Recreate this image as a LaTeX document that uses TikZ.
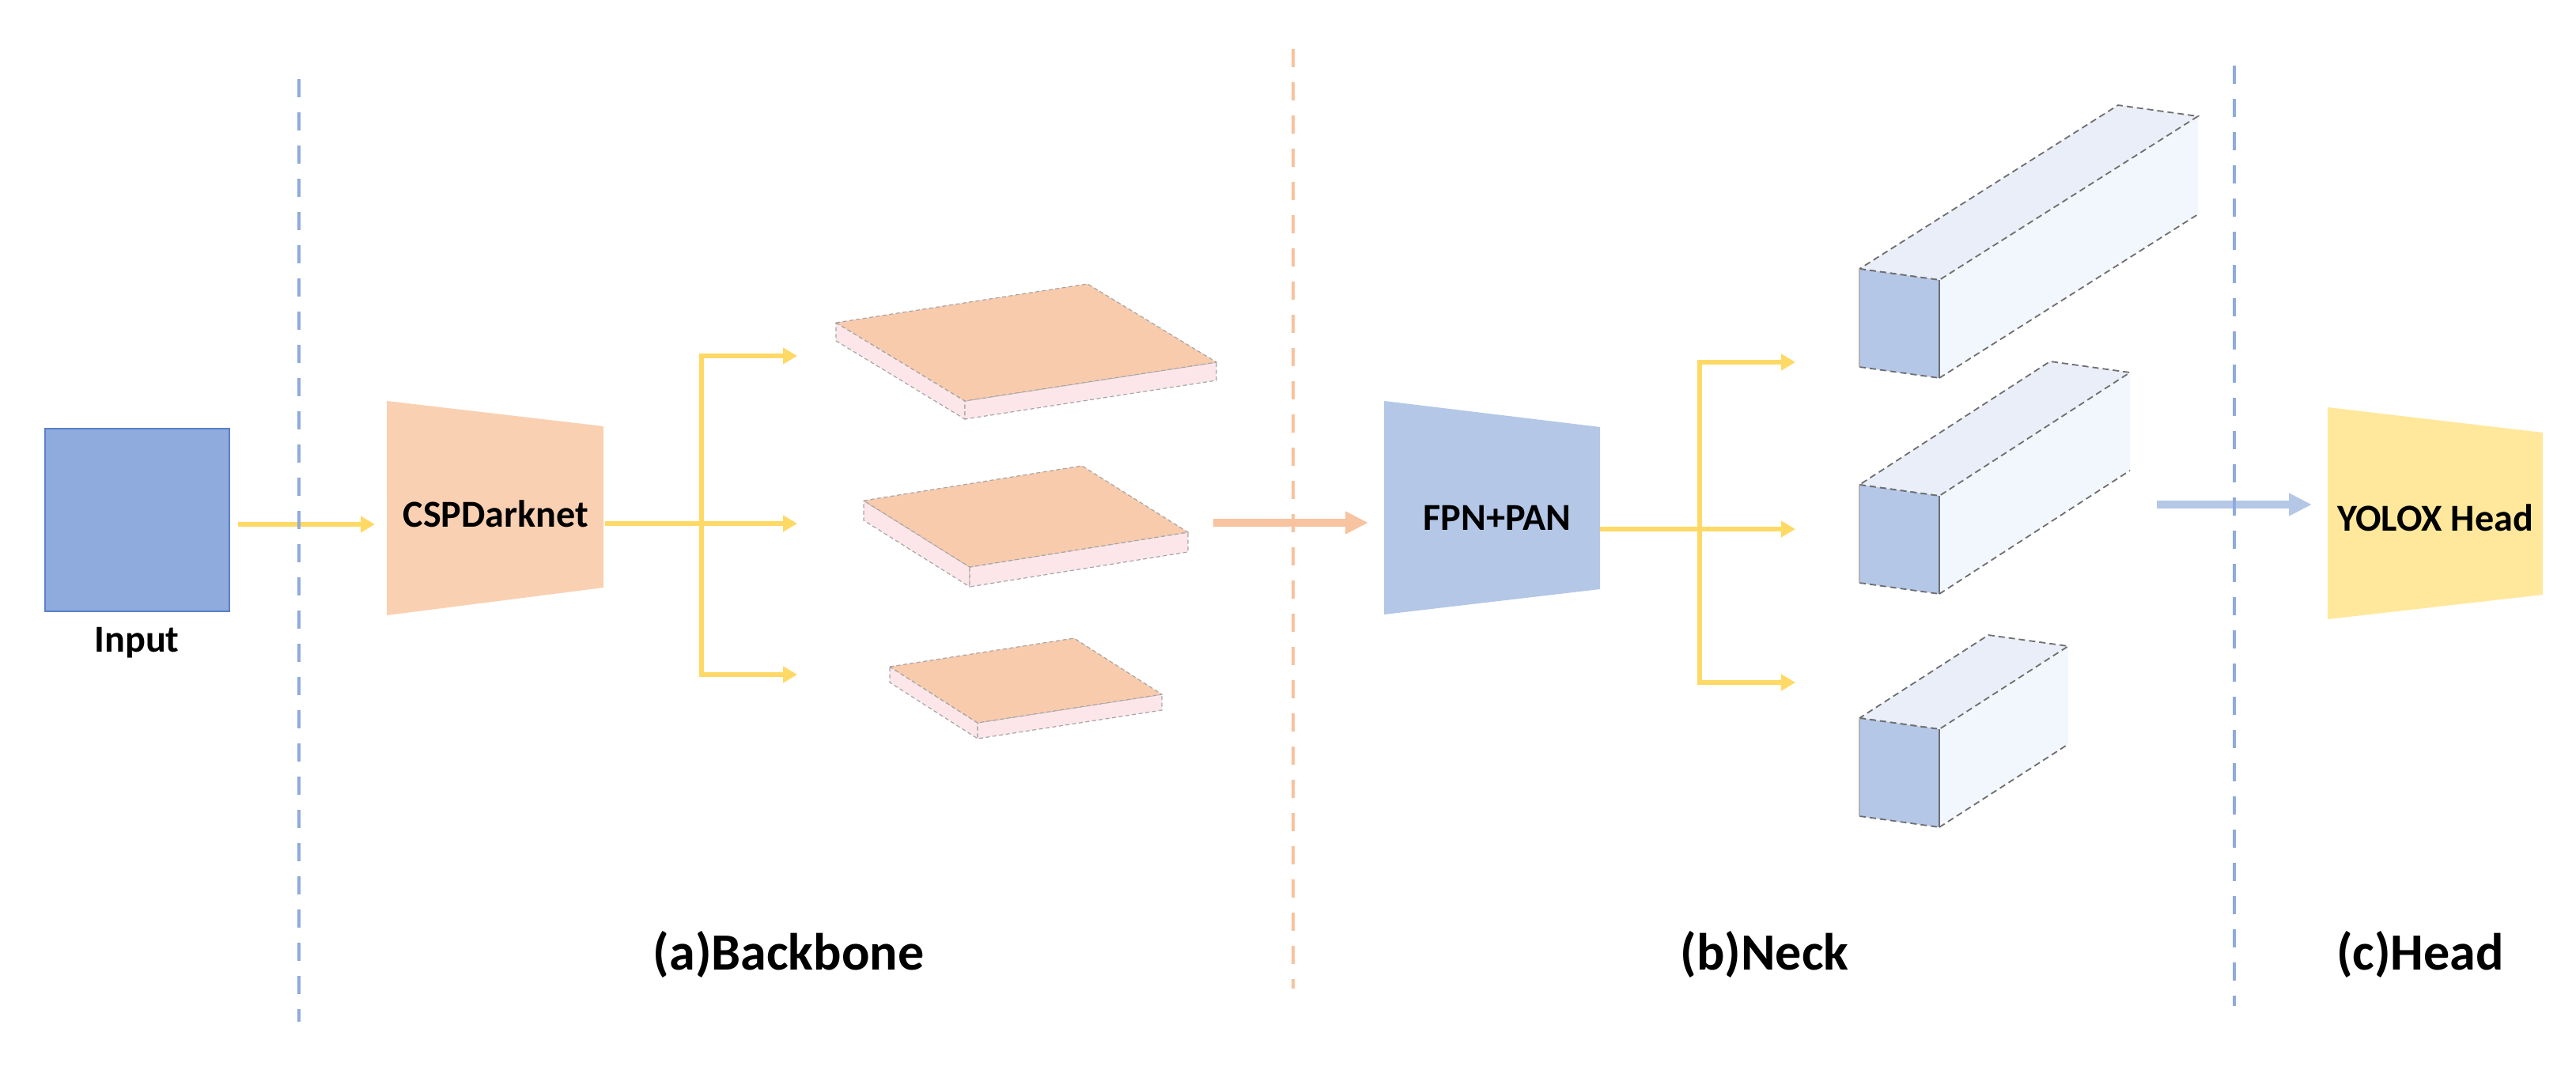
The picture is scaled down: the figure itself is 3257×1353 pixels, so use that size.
\documentclass[tikz,border=0pt]{standalone}
\usepackage{fontspec}
\setmainfont{Carlito}
\usetikzlibrary{arrows.meta}

\definecolor{inblue}{HTML}{8FAADC}
\definecolor{inedge}{HTML}{5B7FC7}
\definecolor{cspfill}{HTML}{FAD0B2}
\definecolor{peach}{HTML}{F8CBAD}
\definecolor{pinkside}{HTML}{FCE6EA}
\definecolor{fpnblue}{HTML}{B4C7E7}
\definecolor{headyellow}{HTML}{FFE89C}
\definecolor{arrowyellow}{HTML}{FFD966}
\definecolor{arroworange}{HTML}{F8C3A0}
\definecolor{dashorange}{HTML}{F7C29C}
\definecolor{cubetop}{HTML}{E9EEF8}
\definecolor{cubeside}{HTML}{F2F7FD}
\definecolor{edgegray}{HTML}{6E6E6E}

\begin{document}
\begin{tikzpicture}[x=0.1mm, y=-0.1mm,
    lbl/.style={font=\fontsize{13.7}{16}\selectfont\bfseries, inner sep=0pt},
    seclbl/.style={font=\fontsize{18.8}{22}\selectfont\bfseries, inner sep=0pt},
    divider/.style={line width=0.4mm, dash pattern=on 2.3mm off 1.9mm},
    yline/.style={draw=arrowyellow, line width=0.6mm},
    yarrow/.style={yline, -{Triangle[length=1.8mm, width=2mm]}},
    fatarrow/.style={line width=1mm, -{Triangle[length=2.9mm, width=2.7mm]}},
    plateedge/.style={draw=gray!70, line width=0.12mm, dash pattern=on 0.5mm off 0.35mm},
    cubeedge/.style={draw=edgegray, line width=0.18mm, dash pattern=on 0.8mm off 0.5mm}]

    \useasboundingbox (0,0) rectangle (3257,1353);

    % input
    \node[draw=inedge, fill=inblue, line width=0.15mm, minimum width=23.3mm,
        minimum height=23.1mm, inner sep=0pt] (input) at (173.5,657.5) {};
    \node[lbl] (inputlbl) at (173,813) {Input};

    % backbone
    \fill[cspfill] (489,507) -- (763,539) -- (763,743) -- (489,778) -- cycle;
    \node[lbl] (csp) at (627,650) {CSPDarknet};

    \coordinate (inputout) at (301,663);
    \coordinate (cspin) at (474,663);
    \coordinate (cspout) at (765,662);
    \coordinate (bbjoin) at (887,662);
    \foreach \n/\y in {1/450, 2/662, 3/853}
        \coordinate (plin\n) at (1008,\y);

    \draw[yarrow] (inputout) -- (cspin);
    \draw[yarrow] (cspout) -- (plin2);
    \draw[yarrow] (bbjoin) |- (plin1);
    \draw[yarrow] (bbjoin) |- (plin3);

    % feature maps
    \foreach \n/\lx/\ly/\bx/\by/\rx/\ry/\t in {1/1057/408/1375/359/1538/458/23,
        2/1092/633/1368/589/1502/673/25, 3/1125/843/1358/807/1469/878/20}{
        \pgfmathsetmacro\fx{\lx+\rx-\bx}
        \pgfmathsetmacro\fy{\ly+\ry-\by}
        \filldraw[fill=pinkside, plateedge] (\lx,\ly) -- (\fx,\fy) -- (\fx,\fy+\t) -- (\lx,\ly+\t) -- cycle;
        \filldraw[fill=pinkside, plateedge] (\fx,\fy) -- (\rx,\ry) -- (\rx,\ry+\t) -- (\fx,\fy+\t) -- cycle;
        \filldraw[fill=peach, plateedge] (\lx,\ly) -- (\bx,\by) -- (\rx,\ry) -- (\fx,\fy) -- cycle;
    }

    \coordinate (plout) at (1534,661);
    \coordinate (fpnin) at (1730,661);
    \draw[fatarrow, color=arroworange] (plout) -- (fpnin);

    % neck
    \fill[fpnblue] (1750,507) -- (2023,540) -- (2023,745) -- (1750,777) -- cycle;
    \node[lbl] (fpn) at (1893,655) {FPN+PAN};

    \coordinate (fpnout) at (2023,669);
    \coordinate (nkjoin) at (2149,669);
    \foreach \n/\y in {1/458, 2/669, 3/863}
        \coordinate (cbin\n) at (2270,\y);

    \draw[yarrow] (fpnout) -- (cbin2);
    \draw[yarrow] (nkjoin) |- (cbin1);
    \draw[yarrow] (nkjoin) |- (cbin3);

    \foreach \n/\fy/\dx/\du in {1/340/327/207, 2/613/241/156, 3/908/163/105}{
        \coordinate (cube\n) at (2351,\fy);
        \fill[cubeside] (cube\n) ++(101,14) -- ++(\dx,-\du) -- ++(0,124) -- ++(-\dx,\du) -- cycle;
        \draw[cubeedge] (cube\n) ++(101,138) -- ++(\dx,-\du);
        \filldraw[fill=cubetop, cubeedge] (cube\n) -- ++(101,14) -- ++(\dx,-\du) -- ++(-101,-14) -- cycle;
        \fill[fpnblue] (cube\n) -- ++(101,14) -- ++(0,124) -- ++(-101,-14) -- cycle;
        \draw[cubeedge] (cube\n) -- ++(101,14) (cube\n) ++(0,124) -- ++(101,14);
        \draw[edgegray, line width=0.2mm] (cube\n) ++(101,14) -- ++(0,124);
        \draw[gray!60, line width=0.12mm] (cube\n) -- ++(0,124);
    }

    % head
    \coordinate (neckout) at (2727,638);
    \coordinate (headin) at (2923,638);
    \draw[fatarrow, color=fpnblue] (neckout) -- (headin);

    \fill[headyellow] (2943,515) -- (3215,547) -- (3215,752) -- (2943,783) -- cycle;
    \node[lbl] (yhead) at (3079,655) {YOLOX Head};

    % dividers
    \draw[divider, draw=inblue] (378,100) -- (378,1292);
    \draw[divider, draw=dashorange] (1635,62) -- (1635,1250);
    \draw[divider, draw=inblue] (2825,83) -- (2825,1272);

    \node[seclbl, anchor=base] (backbone) at (997,1226) {(a)Backbone};
    \node[seclbl, anchor=base] (neck) at (2231,1226) {(b)Neck};
    \node[seclbl, anchor=base] (head) at (3060,1226) {(c)Head};
\end{tikzpicture}
\end{document}
